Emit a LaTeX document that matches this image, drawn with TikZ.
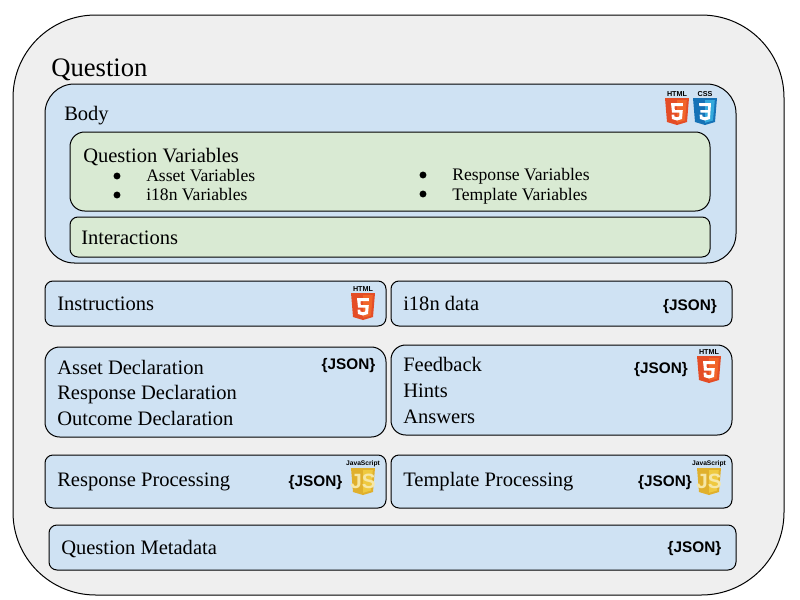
\documentclass[tikz,border=0pt]{standalone}
\usepackage{fontspec}
\setmainfont{Liberation Serif}
\newfontfamily\logofont{Liberation Sans}
\definecolor{outerfill}{HTML}{EFEFEF}
\definecolor{bluefill}{HTML}{CFE2F3}
\definecolor{greenfill}{HTML}{D9EAD3}
\definecolor{htmldark}{HTML}{E44D26}
\definecolor{htmllight}{HTML}{F16529}
\definecolor{cssdark}{HTML}{1572B6}
\definecolor{csslight}{HTML}{33A9DC}
\definecolor{jsdark}{HTML}{E0B02C}
\definecolor{jslight}{HTML}{EFC93F}
\definecolor{jsletter}{HTML}{F6E7A6}
\tikzset{
  box/.style 2 args={draw=black, line width=.75pt, minimum width=#1*.75pt, minimum height=#2*.75pt, inner sep=0pt},
  bluebox/.style 2 args={box={#1}{#2}, fill=bluefill, rounded corners=6pt},
  greenbox/.style 2 args={box={#1}{#2}, fill=greenfill, rounded corners=6pt},
  title/.style={anchor=base west, inner sep=0pt, font=\fontsize{20}{22}\selectfont},
  textlabel/.style={anchor=base west, inner sep=0pt, font=\fontsize{15.4}{18}\selectfont},
  sublabel/.style={anchor=base west, inner sep=0pt, font=\fontsize{13.2}{15}\selectfont},
  bullet/.style={circle, fill=black, inner sep=0pt, minimum size=5.2pt},
  jsonlabel/.style={inner sep=0pt, font=\logofont\bfseries\fontsize{11.5}{14}\selectfont},
  logotext/.style={inner sep=0pt, font=\logofont\bfseries\fontsize{5.4}{6}\selectfont},
  pics/shield/.style 2 args={code={
    \fill[#1] (0,0) -- (24,0) -- (22,24) -- (12,27) -- (2,24) -- cycle;
    \fill[#2] (12,2) -- (21.8,2) -- (20,22.5) -- (12,24.8) -- cycle;
  }},
  pics/htmllogo/.style={code={
    \pic {shield={htmldark}{htmllight}};
    \fill[white] (18,5) -- (6,5) -- (7,14.5) -- (14.5,14.5) -- (14.2,18.5) -- (12,19.3) -- (9.5,18.5) -- (9.3,16.5) -- (6.5,16.5) -- (7,21) -- (12,22.5) -- (17,21) -- (17.8,12) -- (9.8,12) -- (9.5,8) -- (17.8,8) -- cycle;
    \node[logotext] (-t) at (12,-4) {HTML};
  }},
  pics/csslogo/.style={code={
    \pic {shield={cssdark}{csslight}};
    \fill[white] (6,5) -- (18,5) -- (17,21) -- (12,22.5) -- (7,21) -- (6.6,16.5) -- (9.3,16.5) -- (9.5,18.5) -- (12,19.3) -- (14.5,18.5) -- (14.8,14.5) -- (7.5,14.5) -- (7.3,12) -- (15,12) -- (15.2,8) -- (6.3,8) -- cycle;
    \node[logotext] (-t) at (12,-4) {CSS};
  }},
  pics/jslogo/.style={code={
    \pic {shield={jsdark}{jslight}};
    \node[inner sep=0pt, text=jsletter, font=\logofont\bfseries\fontsize{15.5}{16}\selectfont] (-l) at (12,13) {JS};
    \node[logotext, font=\logofont\bfseries\fontsize{5}{6}\selectfont] (-t) at (12,-4) {JavaScript};
  }}
}
\begin{document}
\begin{tikzpicture}[x=.75pt, y=-.75pt]
\useasboundingbox (0,0) rectangle (800,600);
% outer shape
\node[box={771}{580}, fill=outerfill, rounded corners=62pt] (question) at (398.5,305) {};
\node[title] (questionlabel) at (51,76) {Question};
% body
\node[bluebox={691}{179}, rounded corners=22pt] (body) at (390.5,173.5) {};
\node[textlabel] (bodylabel) at (64,120) {Body};
\node[greenbox={640}{79}, rounded corners=11pt] (variables) at (390,171.5) {};
\node[textlabel] (variableslabel) at (83,162) {Question Variables};
\node[bullet] (b1) at (117,176) {};
\node[bullet] (b2) at (117,195) {};
\node[bullet] (b3) at (423,175) {};
\node[bullet] (b4) at (423,194) {};
\node[sublabel] (asset) at (146,181) {Asset Variables};
\node[sublabel] (i18n) at (146,200) {i18n Variables};
\node[sublabel] (response) at (452,180) {Response Variables};
\node[sublabel] (template) at (452,200) {Template Variables};
\node[greenbox={640}{40}] (interactions) at (390,237) {};
\node[textlabel] (interactionslabel) at (81,244) {Interactions};
% middle boxes
\node[bluebox={341}{45}] (instructions) at (215.5,303.5) {};
\node[textlabel] (instructionslabel) at (57,310) {Instructions};
\node[bluebox={341}{45}] (i18ndata) at (561.5,303.5) {};
\node[textlabel] (i18ndatalabel) at (403,310) {i18n data};
\node[bluebox={341}{90}, rounded corners=11pt] (declarations) at (215.5,392) {};
\node[textlabel] (assetdecl) at (57,374) {Asset Declaration};
\node[textlabel] (responsedecl) at (57,399) {Response Declaration};
\node[textlabel] (outcomedecl) at (57,425) {Outcome Declaration};
\node[bluebox={341}{90}, rounded corners=11pt] (feedback) at (561.5,390) {};
\node[textlabel] (feedbacklabel) at (403,371) {Feedback};
\node[textlabel] (hintslabel) at (403,397) {Hints};
\node[textlabel] (answerslabel) at (403,423) {Answers};
% processing
\node[bluebox={341}{53}] (responseproc) at (215.5,481.5) {};
\node[textlabel] (responseproclabel) at (57,486) {Response Processing};
\node[bluebox={341}{53}] (templateproc) at (561.5,481.5) {};
\node[textlabel] (templateproclabel) at (403,486) {Template Processing};
\node[bluebox={687}{45}] (metadata) at (392.5,547.5) {};
\node[textlabel] (metadatalabel) at (61,554) {Question Metadata};
% logos
\pic (h1) at (665,98) {htmllogo};
\pic (c1) at (693,98) {csslogo};
\pic (h2) at (351,293) {htmllogo};
\pic (h3) at (697,356) {htmllogo};
\pic (j1) at (351,468) {jslogo};
\pic (j2) at (697,468) {jslogo};
\node[jsonlabel] (json1) at (690,306.5) {\{JSON\}};
\node[jsonlabel] (json2) at (348.5,365.5) {\{JSON\}};
\node[jsonlabel] (json3) at (661,369.5) {\{JSON\}};
\node[jsonlabel] (json4) at (315.5,482.5) {\{JSON\}};
\node[jsonlabel] (json5) at (665,482.5) {\{JSON\}};
\node[jsonlabel] (json6) at (694.5,548.5) {\{JSON\}};
\end{tikzpicture}
\end{document}
